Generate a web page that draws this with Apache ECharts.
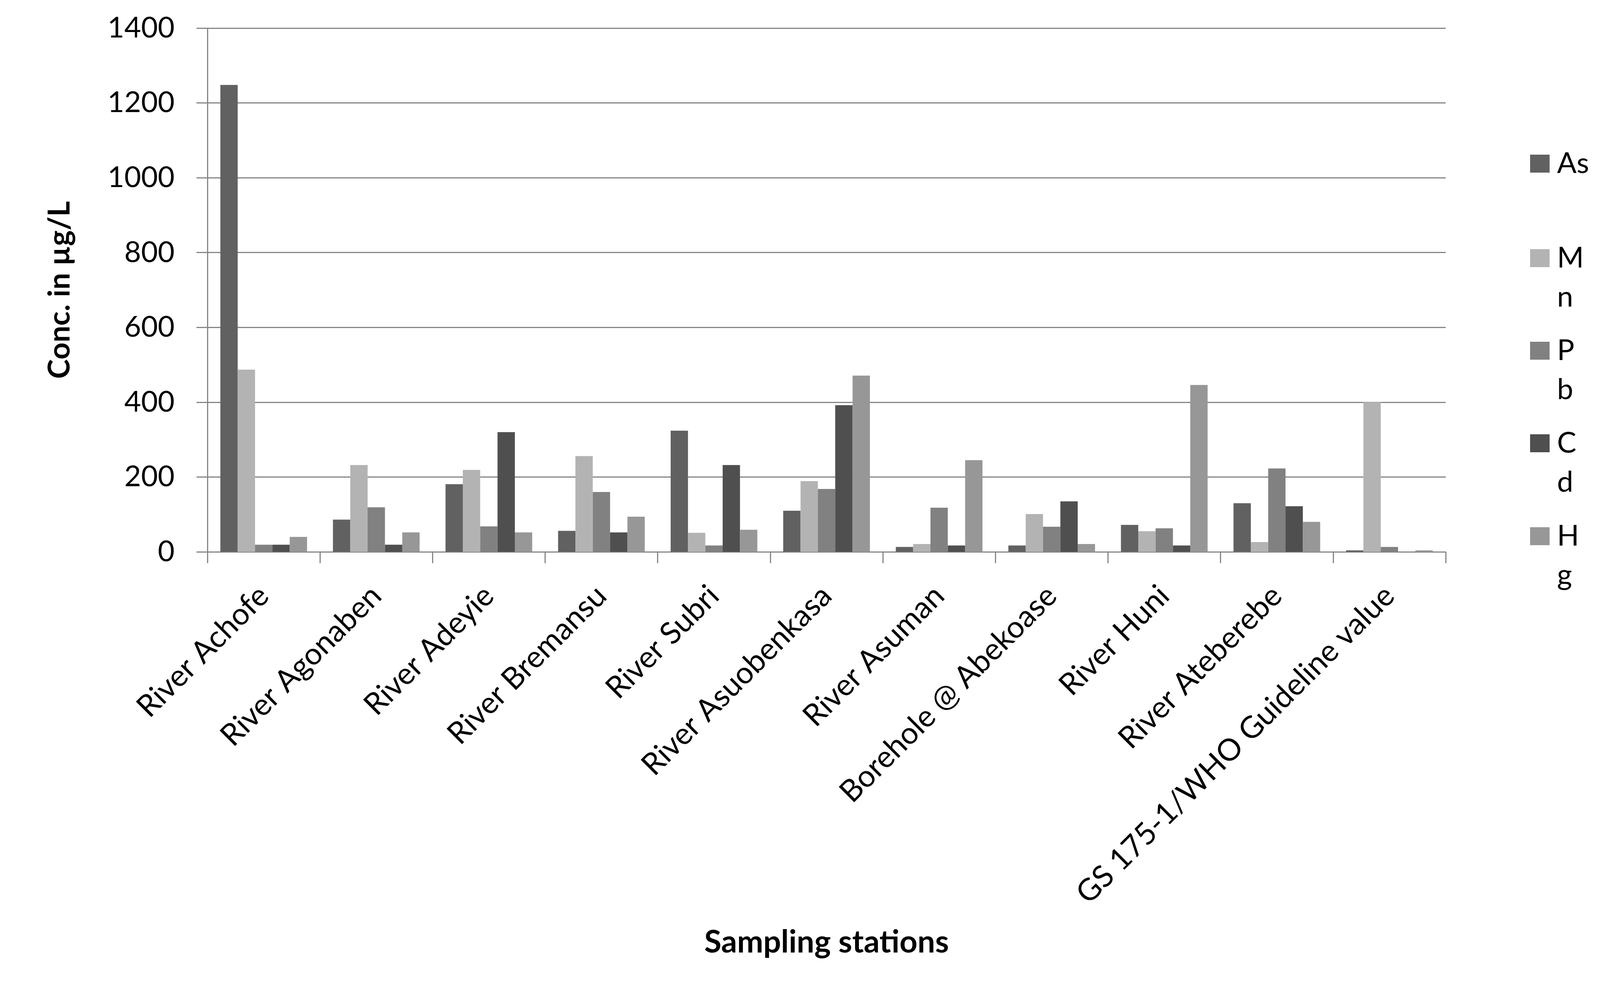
<!DOCTYPE html>
<html>
<head>
<meta charset="utf-8">
<script src="https://cdn.jsdelivr.net/npm/echarts@6/dist/echarts.min.js"></script>
<style>
html,body{margin:0;padding:0;background:#fff;overflow:hidden;}
#chart{width:100vw;height:2558px;}
</style>
</head>
<body>
<div id="chart"></div>
<script>
const categories = ['River Achofe','River Agonaben','River Adeyie','River Bremansu','River Subri','River Asuobenkasa','River Asuman','Borehole @ Abekoase','River Huni','River Ateberebe','GS 175-1/WHO Guideline value'];
const seriesNames = ['As','Mn','Pb','Cd','Hg'];
const asValues = [1248, 86, 181, 56, 324, 110, 13, 17, 72, 130, 4];
const mnValues = [487, 232, 219, 256, 51, 189, 21, 101, 55, 26, 400];
const pbValues = [19, 119, 68, 160, 17, 168, 118, 67, 63, 223, 13];
const cdValues = [19, 19, 320, 52, 232, 392, 17, 135, 17, 122, 0];
const hgValues = [40, 52, 52, 94, 59, 471, 245, 21, 446, 80, 4];
const yTicks = [0, 200, 400, 600, 800, 1000, 1200, 1400];

const values = [asValues, mnValues, pbValues, cdValues, hgValues];
const colors = ['#616161', '#b3b3b3', '#818181', '#4f4f4f', '#979797'];
const FONT = 'Lato';
const AXIS_GRAY = '#868686';

// the design is laid out for a 4135 px wide page; scale horizontally to the actual viewport
const W = window.innerWidth || 4135;
const sx = Math.min(1, W / 4135);

// each legend entry is its own legend so the swatch sits on the first text line
const legendTops = [369, 511, 748, 985, 1223];
const legends = seriesNames.map((n, i) => ({
  data: [{ name: n }],
  orient: 'vertical',
  left: Math.round(3954 * sx),
  top: legendTops[i],
  padding: 0,
  itemWidth: 50,
  itemHeight: 46,
  icon: 'rect',
  selectedMode: false,
  formatter: name => name === 'As' ? name : '\n' + name[0] + '\n' + name.slice(1),
  textStyle: {
    fontFamily: FONT,
    fontSize: 74,
    lineHeight: 100,
    color: '#000',
    padding: [0, 0, 0, 14]
  }
}));

const chart = echarts.init(document.getElementById('chart'), null, { renderer: 'canvas' });
chart.setOption({
  backgroundColor: '#fff',
  animation: false,
  legend: legends,
  grid: { left: Math.round(536 * sx), right: Math.round(399 * sx), top: 72, bottom: 1145, containLabel: false },
  xAxis: {
    type: 'category',
    data: categories,
    name: 'Sampling stations',
    nameLocation: 'middle',
    nameGap: 960,
    nameTextStyle: { fontFamily: FONT, fontWeight: 'bold', fontSize: 80, color: '#000' },
    axisLine: { show: true, lineStyle: { color: AXIS_GRAY, width: 3 } },
    axisTick: { show: true, length: 29, lineStyle: { color: AXIS_GRAY, width: 3 } },
    axisLabel: { interval: 0, rotate: 45, margin: 100, fontFamily: FONT, fontSize: 78, color: '#000' },
    splitLine: { show: false }
  },
  yAxis: {
    type: 'value',
    min: yTicks[0],
    max: yTicks[yTicks.length - 1],
    interval: yTicks[1] - yTicks[0],
    name: 'Conc. in µg/L',
    nameLocation: 'middle',
    nameGap: 340,
    nameRotate: 90,
    nameTextStyle: { fontFamily: FONT, fontWeight: 'bold', fontSize: 76, color: '#000' },
    axisLine: { show: true, lineStyle: { color: AXIS_GRAY, width: 3 } },
    axisTick: { show: true, length: 28, lineStyle: { color: AXIS_GRAY, width: 3 } },
    axisLabel: { margin: 84, fontFamily: FONT, fontSize: 74, color: '#000', formatter: v => String(v) },
    splitLine: { show: true, lineStyle: { color: AXIS_GRAY, width: 3 } }
  },
  series: seriesNames.map((n, i) => ({
    name: n,
    type: 'bar',
    data: values[i],
    barGap: '0%',
    barCategoryGap: '23%',
    itemStyle: { color: colors[i] }
  }))
});
</script>
</body>
</html>
